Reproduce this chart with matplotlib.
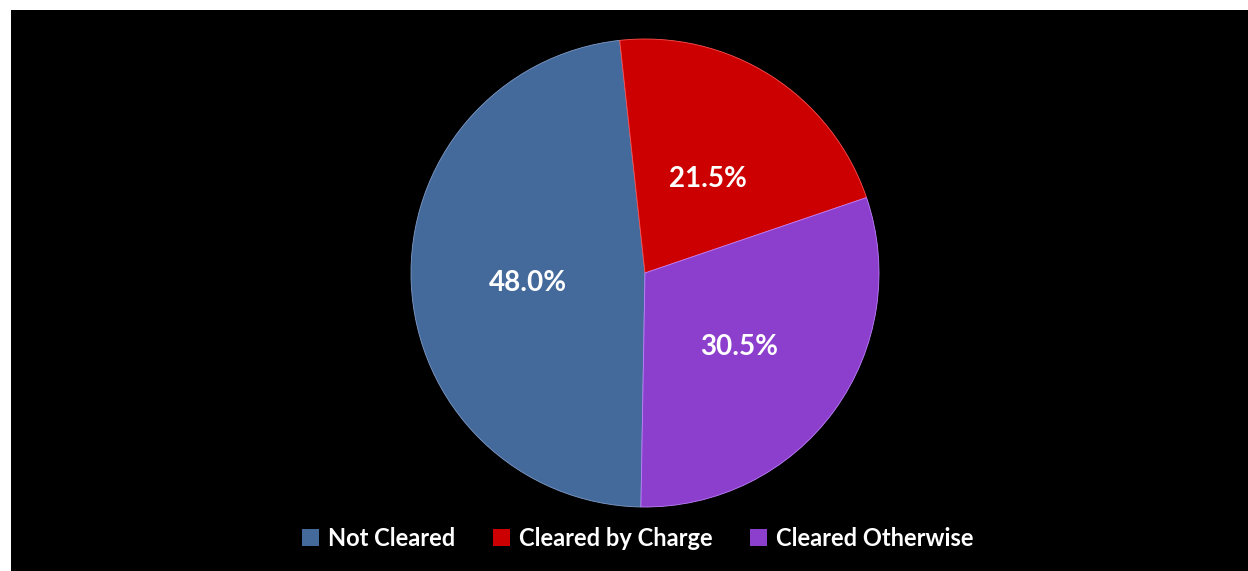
import matplotlib.pyplot as plt
from matplotlib.patches import Patch

# data
labels = ["Not Cleared", "Cleared by Charge", "Cleared Otherwise"]
shares = [48.0, 21.5, 30.5]
colors = ["#44699B", "#CC0000", "#8B3FCC"]

W, H = 1248, 571
fig = plt.figure(figsize=(W / 100, H / 100), dpi=100, facecolor="white")

# black plot area (white strip top/left)
bg = fig.add_axes([11 / W, 0, 1 - 11 / W, 1 - 10 / H])
bg.set_facecolor("black")
bg.set_xticks([]); bg.set_yticks([])
for s in bg.spines.values():
    s.set_visible(False)

cx, cy, r = 645, 273, 234
ax = fig.add_axes([(cx - r) / W, (H - cy - r) / H, 2 * r / W, 2 * r / H])
ax.set_facecolor("none")

wedges, texts, autotexts = ax.pie(
    shares, colors=colors, startangle=-91, counterclock=False,
    autopct="%.1f%%", pctdistance=0.5,
    wedgeprops=dict(linewidth=0.6),
    textprops=dict(color="white", fontsize=20, fontweight="bold", family="Lato"))
edge_cols = ["#7f9cc8", "#ff5050", "#c080ff"]
for w, ec in zip(wedges, edge_cols):
    w.set_edgecolor(ec)
# nudge labels down a little
for t in autotexts:
    x, y = t.get_position()
    t.set_position((x, y - 0.02))
ax.set_xlim(-1, 1); ax.set_ylim(-1, 1)
ax.set_aspect("equal")

handles = [Patch(facecolor=c, edgecolor="none") for c in colors]
leg = fig.legend(handles, labels, loc="center", bbox_to_anchor=(638 / W, 1 - 538 / H),
                 ncol=3, frameon=False, handlelength=0.7, handleheight=0.7,
                 handletextpad=0.4, columnspacing=1.6,
                 prop=dict(family="Lato", weight="bold", size=17))
for t in leg.get_texts():
    t.set_color("white")

fig.savefig("out.png", dpi=100, facecolor=fig.get_facecolor())
